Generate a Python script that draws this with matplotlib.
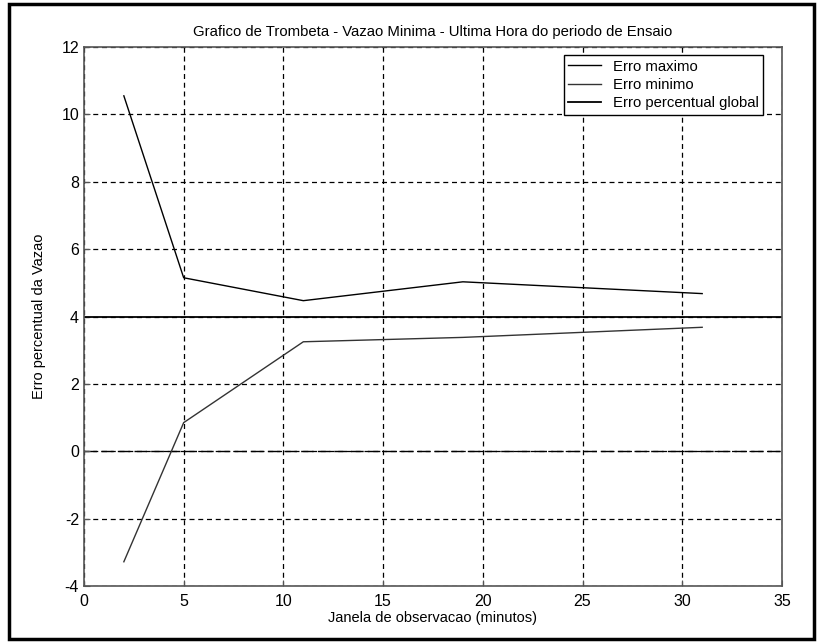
import matplotlib.pyplot as plt
from matplotlib.patches import Rectangle

plt.rcParams['font.family'] = ['Liberation Sans', 'DejaVu Sans']
plt.rcParams['axes.unicode_minus'] = False

# janelas de observacao (minutos) e erros percentuais
janela = [2, 5, 11, 19, 31]
erro_max = [10.55, 5.15, 4.47, 5.03, 4.68]
erro_min = [-3.28, 0.85, 3.25, 3.38, 3.68]
janela_global = [0, 35]
erro_global = [4.0, 4.0]

fig = plt.figure(figsize=(8.2, 6.42), dpi=100)
ax = fig.add_axes([0.1024, 0.0872, 0.8512, 0.8396])

ax.plot(janela, erro_max, color='black', lw=1.0, label='Erro maximo')
ax.plot(janela, erro_min, color='#333333', lw=1.0, label='Erro minimo')
ax.plot(janela_global, erro_global, color='black', lw=1.3, label='Erro percentual global')
ax.axhline(0, color='black', lw=1.0, dashes=(9, 3), zorder=1)

ax.set_xlim(0, 35)
ax.set_ylim(-4, 12)
ax.set_xticks(range(0, 36, 5))
ax.set_yticks(range(-4, 13, 2))
ax.grid(True, color='black', lw=0.9, dashes=(4, 3))
ax.tick_params(labelsize=11.5, direction='in', length=4, color='#555555')
ax.tick_params(axis='x', pad=6)
for s in ax.spines.values():
    s.set_color('#555555')
    s.set_linewidth(1.2)

ax.set_title('Grafico de Trombeta - Vazao Minima - Ultima Hora do periodo de Ensaio',
             fontsize=10.7, pad=8)
ax.set_xlabel('Janela de observacao (minutos)', fontsize=10.5, labelpad=1)
ax.set_ylabel('Erro percentual da Vazao', fontsize=10.5, labelpad=11)

leg = ax.legend(loc='upper right', fontsize=10.7, frameon=True, fancybox=False,
                edgecolor='black', framealpha=1, borderpad=0.3, labelspacing=0.3,
                handlelength=2.2, borderaxespad=0, bbox_to_anchor=(0.973, 0.985))
leg.get_frame().set_linewidth(1.0)

# moldura externa
fig.patches.append(Rectangle((0.011, 0.004), 0.982, 0.99, transform=fig.transFigure,
                             fill=False, edgecolor='black', lw=2.5))

fig.savefig('out.png', dpi=100)
